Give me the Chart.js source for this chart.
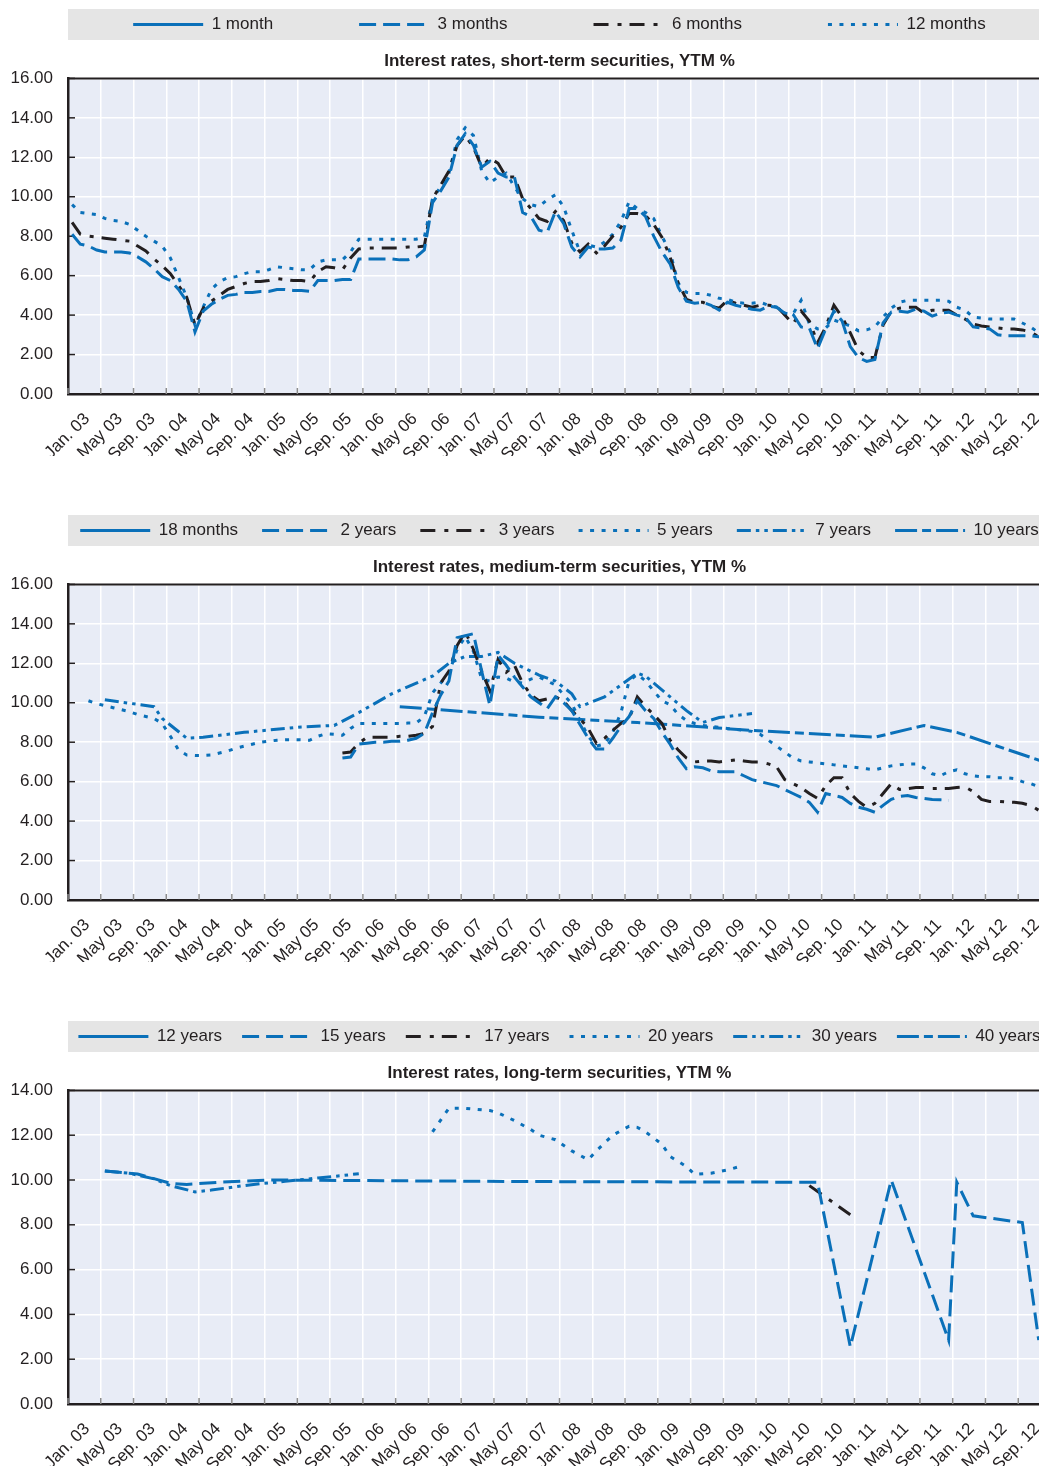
<!DOCTYPE html>
<html>
<head>
<meta charset="utf-8">
<title>Interest rates, YTM %</title>
<script src="https://cdn.jsdelivr.net/npm/chart.js@4"></script>
<style>
  body { margin: 0; background: #fff; }
  #page { position: relative; width: 1039px; height: 1468px; overflow: hidden; }
  #page canvas { position: absolute; left: 0; }
</style>
</head>
<body>
<div id="page">
  <canvas id="short" width="1051" height="526" style="top:-70px"></canvas>
  <canvas id="medium" width="1051" height="464" style="top:498px"></canvas>
  <canvas id="long" width="1051" height="458" style="top:1008px"></canvas>
</div>
<script>
// x axis: one point per month, Jan 2003 (0) .. Dec 2012 (119), labelled every 4 months
const TICK_LABELS = [
  'Jan. 03', 'May 03', 'Sep. 03', 'Jan. 04', 'May 04', 'Sep. 04', 'Jan. 05', 'May 05', 'Sep. 05',
  'Jan. 06', 'May 06', 'Sep. 06', 'Jan. 07', 'May 07', 'Sep. 07', 'Jan. 08', 'May 08', 'Sep. 08',
  'Jan. 09', 'May 09', 'Sep. 09', 'Jan. 10', 'May 10', 'Sep. 10', 'Jan. 11', 'May 11', 'Sep. 11',
  'Jan. 12', 'May 12', 'Sep. 12'
];

// ---- short-term (monthly, from Jan 03) ----
const M1 = [];
const M3 = [
  8.1, 7.6, 7.5, 7.3, 7.2, 7.2, 7.2, 7.15, 6.95, 6.7, 6.35, 5.95,
  5.75, 5.3, 4.7, 3.15, 4.2, 4.55, 4.8, 5.0, 5.05, 5.15, 5.15, 5.2,
  5.2, 5.3, 5.3, 5.25, 5.25, 5.2, 5.75, 5.75, 5.75, 5.8, 5.8, 6.85,
  6.85, 6.85, 6.85, 6.85, 6.8, 6.8, 6.95, 7.3, 9.7, 10.3, 11.0, 12.6,
  13.2, 12.6, 11.5, 11.8, 11.2, 11.0, 11.0, 9.2, 9.0, 8.3, 8.2, 9.25,
  8.65, 7.45, 6.95, 7.45, 7.35, 7.35, 7.4, 7.8, 9.4, 9.4, 9.0, 8.0,
  7.2, 6.6, 5.4, 4.7, 4.6, 4.65, 4.5, 4.25, 4.65, 4.5, 4.4, 4.3,
  4.25, 4.45, 4.4, 4.1, 4.05, 3.4, 3.35, 2.3, 3.3, 4.2, 3.7, 2.4,
  1.85, 1.65, 1.75, 3.6, 4.15, 4.2, 4.15, 4.3, 4.2, 3.95, 4.1, 4.15,
  4.0, 3.9, 3.4, 3.35, 3.3, 3.0, 2.95, 2.95, 2.95, 2.95, 2.9, 2.85
];
const M6 = [
  8.7, 8.1, 8.0, 7.95, 7.9, 7.85, 7.8, 7.75, 7.5, 7.25, 6.85, 6.5,
  6.1, 5.5, 4.9, 3.5, 4.35, 4.7, 5.0, 5.3, 5.45, 5.6, 5.7, 5.7,
  5.75, 5.85, 5.8, 5.75, 5.75, 5.7, 6.2, 6.45, 6.4, 6.3, 6.9, 7.35,
  7.4, 7.4, 7.4, 7.4, 7.4, 7.45, 7.45, 7.5, 9.9, 10.6, 11.3, 12.6,
  13.1, 12.5, 11.5, 11.95, 11.7, 11.0, 11.0, 9.9, 9.4, 8.9, 8.75, 9.25,
  8.8, 7.65, 7.2, 7.6, 7.15, 7.5, 8.0, 8.45, 9.15, 9.15, 9.05, 8.6,
  7.95, 6.95, 5.6, 4.8, 4.65, 4.65, 4.45, 4.35, 4.75, 4.6, 4.5, 4.4,
  4.5, 4.5, 4.45, 4.0, 3.55, 4.2, 3.7, 2.6, 3.4, 4.5, 3.9, 3.1,
  2.2, 1.85, 1.85, 3.5, 4.2, 4.35, 4.4, 4.4, 4.1, 4.25, 4.25, 4.25,
  4.0, 3.8, 3.55, 3.45, 3.4, 3.35, 3.3, 3.3, 3.25, 3.15, 2.9, 2.85
];
const M12 = [
  9.6, 9.2, 9.15, 9.1, 8.9, 8.8, 8.75, 8.6, 8.3, 8.0, 7.75, 7.5,
  6.9, 5.9, 4.9, 3.5, 4.4, 5.3, 5.7, 5.9, 5.95, 6.1, 6.2, 6.2,
  6.3, 6.45, 6.4, 6.35, 6.3, 6.3, 6.7, 6.8, 6.8, 6.8, 7.2, 7.85,
  7.85, 7.85, 7.85, 7.85, 7.85, 7.85, 7.85, 7.95, 9.9, 10.5, 11.2, 12.9,
  13.5, 13.1, 11.3, 10.7, 11.0, 11.2, 10.5, 9.9, 9.6, 9.5, 9.85, 10.1,
  9.5, 8.3, 7.2, 7.55, 7.45, 7.7, 8.1, 8.75, 9.75, 9.4, 9.2, 8.9,
  8.0, 7.2, 5.6, 5.15, 5.1, 5.1, 5.0, 4.85, 4.8, 4.65, 4.6, 4.6,
  4.65, 4.5, 4.4, 4.1, 4.05, 4.75, 3.55, 3.3, 3.35, 3.75, 3.6, 3.45,
  3.2, 3.25, 3.4, 3.9, 4.35, 4.65, 4.75, 4.75, 4.75, 4.75, 4.75, 4.7,
  4.4, 4.25, 3.9, 3.85, 3.8, 3.8, 3.8, 3.8, 3.6, 3.4, 3.1, 2.95
];

// ---- medium-term ----
const M18 = [];
const Y2_START = 33; // Oct 05
const Y2 = [
  7.2, 7.25, 7.9,
  7.95, 8.0, 8.0, 8.05, 8.05, 8.1, 8.2, 8.45, 9.5, 10.4, 11.1, 13.3,
  13.4, 13.5, 11.6, 9.85, 12.4, 11.9, 11.3, 10.8, 10.3, 10.0, 9.7, 10.3,
  10.0, 9.6, 8.9, 8.2, 7.65, 7.65, 8.2, 8.8, 9.3, 10.1, 9.6, 9.2,
  8.5, 7.9, 7.2, 6.65, 6.75, 6.7, 6.55, 6.5, 6.5, 6.5, 6.3, 6.1,
  6.0, 5.9, 5.8, 5.6, 5.4, 5.2, 4.95, 4.45, 5.4, 5.3, 5.2, 4.9,
  4.7, 4.6, 4.45, 4.8, 5.1, 5.25, 5.3, 5.2, 5.15, 5.1, 5.08, 5.05
];
const Y3_START = 33;
const Y3 = [
  7.45, 7.5, 7.95,
  8.25, 8.25, 8.25, 8.25, 8.3, 8.3, 8.35, 8.45, 8.8, 11.0, 11.6, 12.9,
  13.6, 12.7, 11.6, 10.6, 12.2, 11.55, 11.9, 11.0, 10.4, 10.1, 10.2, 10.3,
  10.1, 9.6, 9.2, 8.7, 7.95, 8.2, 8.6, 8.95, 9.2, 10.3, 9.8, 9.4,
  8.95, 8.1, 7.6, 7.2, 7.0, 7.05, 7.05, 7.0, 7.05, 7.1, 7.05, 7.0,
  7.0, 6.9, 6.75, 6.1, 5.9, 5.7, 5.4, 5.15, 5.8, 6.2, 6.2, 5.4,
  5.0, 4.7, 4.9, 5.4, 5.9, 5.6, 5.65, 5.7, 5.7, 5.65, 5.65, 5.65,
  5.7, 5.73, 5.5, 5.1, 5.0, 5.0, 4.97, 4.95, 4.9, 4.8, 4.55, 4.5
];
const Y5_START = 2; // Mar 03
const Y5 = [
  10.1, 9.95, 9.85, 9.75, 9.65, 9.55, 9.4, 9.3, 9.2, 8.95,
  8.3, 7.6, 7.35, 7.33, 7.33, 7.35, 7.45, 7.55, 7.7, 7.8, 7.9, 8.0,
  8.05, 8.1, 8.12, 8.13, 8.12, 8.1, 8.3, 8.43, 8.4, 8.35, 8.7, 8.95,
  8.95, 8.95, 8.95, 8.95, 8.95, 8.97, 8.97, 9.3, 10.5, 11.0, 11.5, 12.7,
  13.35, 12.6, 11.2, 11.1, 11.3, 11.25, 11.05, 11.0, 11.2, 11.3, 11.1, 10.9,
  10.4, 9.95, 9.1, 8.3, 7.8, 7.9, 8.5, 9.5, 11.1, 11.45, 11.1, 10.6,
  10.1, 9.9, 9.4, 9.1, 8.95, 8.85, 8.8, 8.75, 8.7, 8.65, 8.6, 8.55,
  8.4, 8.1, 7.8, 7.5, 7.2, 7.05, 7.0, 6.95, 6.9, 6.85, 6.8, 6.75,
  6.7, 6.65, 6.6, 6.7, 6.8, 6.85, 6.9, 6.9, 6.7, 6.4, 6.3, 6.5,
  6.6, 6.4, 6.3, 6.25, 6.25, 6.2, 6.2, 6.15, 6.0, 5.9, 5.75, 5.7
];
const Y7_MONTHS = [4, 10, 11, 14, 16, 21, 28, 32, 35, 39, 44, 46, 48, 50, 52, 54, 57, 59, 61, 62, 65, 69, 70, 75, 77, 79, 83];
const Y7 = [10.15, 9.8, 9.2, 8.2, 8.25, 8.5, 8.77, 8.85, 9.5, 10.45, 11.35, 12.0, 12.35, 12.35, 12.55, 12.0, 11.4, 11.1, 10.45, 9.8, 10.3, 11.5, 11.35, 9.6, 9.0, 9.25, 9.45];
const Y10_MONTHS = [40, 57, 69, 83, 98, 104, 108, 119];
const Y10 = [9.8, 9.27, 9.0, 8.6, 8.25, 8.85, 8.5, 6.95];

// ---- long-term ----
const Y12 = [];
const Y15_MONTHS = [4, 8, 12, 14, 18, 24, 56, 91, 95, 100, 107, 108, 110, 116, 118];
const Y15 = [10.4, 10.27, 9.85, 9.8, 9.9, 10.0, 9.93, 9.9, 2.55, 10.0, 2.85, 9.9, 8.4, 8.1, 2.85];
const Y17_MONTHS = [90, 95];
const Y17 = [9.75, 8.45];
const Y20_MONTHS = [44, 46, 48, 51, 52, 54, 56, 57, 59, 61, 63, 64, 66, 68, 69, 70, 72, 73, 75, 76, 78, 80, 82];
const Y20 = [12.15, 13.2, 13.2, 13.1, 13.0, 12.65, 12.25, 12.0, 11.8, 11.3, 10.9, 11.3, 12.0, 12.4, 12.35, 12.15, 11.6, 11.05, 10.6, 10.25, 10.3, 10.45, 10.65];
const Y30_MONTHS = [4, 7, 10, 12, 15, 17, 21, 23, 26, 30, 33, 35];
const Y30 = [10.4, 10.3, 10.05, 9.75, 9.47, 9.55, 9.75, 9.84, 9.94, 10.09, 10.2, 10.28];
const Y40 = [];

const BLUE = '#0a70b9';
const BLACK = '#231f20';
const FONT = "'Liberation Sans', Arial, sans-serif";

// line styles
const SOLID = [];
const DASH = [17, 7];
const DASH_DOT = [15, 9, 4, 8];
const DOT = [4, 7.5];
const DASH_DOT_DOT = [14, 5, 3.5, 5, 3.5, 5];
const LONG_SHORT = [22, 5, 9, 5];

function run(start, values) {
  return values.map((v, i) => ({ x: start + i, y: v }));
}
function pts(months, values) {
  return months.map((m, i) => ({ x: m, y: values[i] }));
}
function line(label, data, color, dash) {
  return {
    label, data,
    borderColor: color, backgroundColor: color,
    borderDash: dash, borderWidth: 3,
    pointRadius: 0, tension: 0, spanGaps: true
  };
}

// legend samples use the dataset dash, not the point style
function legendLabels(chart) {
  const items = Chart.defaults.plugins.legend.labels.generateLabels(chart);
  items.forEach(it => {
    const ds = chart.data.datasets[it.datasetIndex];
    it.lineDash = ds.borderDash;
    it.lineWidth = 3;
    it.strokeStyle = ds.borderColor;
  });
  return items;
}

// grey legend band, plot background, top frame and the small inside tick marks
const frame = {
  id: 'frame',
  afterInit(chart) {
    // the original legend row is wider than the plot; keep it on one line
    const lg = chart.legend;
    const fit = lg.fit;
    const draw = lg.draw;
    lg.fit = function () {
      const w = this.maxWidth;
      this.maxWidth = w + 200;
      fit.call(this);
      this.maxWidth = w;
      this.width = Math.min(this.width, w);
    };
    lg.draw = function () {
      this.left -= 200; this.right += 200;
      draw.call(this);
      this.left += 200; this.right -= 200;
    };
  },
  beforeDraw(chart) {
    const { ctx, chartArea: a, legend } = chart;
    ctx.save();
    const hb = legend.legendHitBoxes[0];
    const cy = hb.top + hb.height / 2;
    ctx.fillStyle = '#e5e5e5';
    ctx.fillRect(a.left, cy - 15.5, chart.width - a.left, 31);
    ctx.fillStyle = '#e8ecf6';
    ctx.fillRect(a.left, a.top, a.right - a.left, a.bottom - a.top);
    ctx.restore();
  },
  beforeDatasetsDraw(chart) {
    const { ctx, chartArea: a, scales: { x, y } } = chart;
    ctx.save();
    ctx.lineWidth = 1.5;
    ctx.strokeStyle = BLACK;
    y.ticks.forEach(t => {
      const py = y.getPixelForValue(t.value);
      ctx.beginPath(); ctx.moveTo(a.left, py); ctx.lineTo(a.left + 7, py); ctx.stroke();
    });
    ctx.strokeStyle = '#8c8c8c';
    x.ticks.forEach(t => {
      const px = x.getPixelForValue(t.value);
      ctx.beginPath(); ctx.moveTo(px, a.bottom); ctx.lineTo(px, a.bottom - 6); ctx.stroke();
    });
    ctx.strokeStyle = BLACK;
    ctx.lineWidth = 2;
    ctx.beginPath(); ctx.moveTo(a.left, a.top); ctx.lineTo(a.right, a.top); ctx.stroke();
    ctx.restore();
  }
};

function makeChart(id, title, datasets, yMax, legendPad) {
  return new Chart(document.getElementById(id), {
    type: 'line',
    data: { datasets },
    options: {
      responsive: false,
      animation: false,
      devicePixelRatio: 1,
      layout: { padding: 0 },
      plugins: {
        legend: {
          position: 'top', fullSize: false, weight: 3000,
          labels: {
            usePointStyle: true, pointStyle: 'line', pointStyleWidth: 70,
            padding: legendPad, color: BLACK,
            font: { family: FONT, size: 17 },
            generateLabels: legendLabels
          }
        },
        title: {
          display: true, text: title, fullSize: false, weight: 1000,
          color: BLACK, font: { family: FONT, size: 17, weight: 'bold' },
          padding: { top: 8.5, bottom: 6.5 }
        },
        tooltip: { enabled: false }
      },
      scales: {
        x: {
          type: 'linear', min: -0.5, max: 119.5,
          afterBuildTicks: s => { s.ticks = TICK_LABELS.map((_, i) => ({ value: i * 4 - 0.5 })); },
          afterFit: s => { s.height = 62; },
          grid: { color: '#ffffff', lineWidth: 1.5, drawTicks: false },
          border: { color: BLACK, width: 2.5 },
          ticks: {
            autoSkip: false, minRotation: 45, maxRotation: 45,
            labelOffset: 19, padding: 15, color: BLACK,
            font: { family: FONT, size: 17 },
            callback: (v, i) => TICK_LABELS[i]
          }
        },
        y: {
          min: 0, max: yMax,
          afterFit: s => { s.width = 68; },
          grid: { color: '#ffffff', lineWidth: 1.5, drawTicks: false },
          border: { color: BLACK, width: 2.5 },
          ticks: {
            stepSize: 2, padding: 15, color: BLACK,
            font: { family: FONT, size: 17 },
            callback: v => v.toFixed(2)
          }
        }
      }
    },
    plugins: [frame]
  });
}

makeChart('short', 'Interest rates, short-term securities, YTM %', [
  line('1 month', run(0, M1), BLUE, SOLID),
  line('3 months', run(0, M3), BLUE, DASH),
  line('6 months', run(0, M6), BLACK, DASH_DOT),
  line('12 months', run(0, M12), BLUE, DOT)
], 16, 86);

makeChart('medium', 'Interest rates, medium-term securities, YTM %', [
  line('18 months', run(0, M18), BLUE, SOLID),
  line('2 years', run(Y2_START, Y2), BLUE, DASH),
  line('3 years', run(Y3_START, Y3), BLACK, DASH_DOT),
  line('5 years', run(Y5_START, Y5), BLUE, DOT),
  line('7 years', pts(Y7_MONTHS, Y7), BLUE, DASH_DOT_DOT),
  line('10 years', pts(Y10_MONTHS, Y10), BLUE, LONG_SHORT)
], 16, 24);

makeChart('long', 'Interest rates, long-term securities, YTM %', [
  line('12 years', run(0, Y12), BLUE, SOLID),
  line('15 years', pts(Y15_MONTHS, Y15), BLUE, DASH),
  line('17 years', pts(Y17_MONTHS, Y17), BLACK, DASH_DOT),
  line('20 years', pts(Y20_MONTHS, Y20), BLUE, DOT),
  line('30 years', pts(Y30_MONTHS, Y30), BLUE, DASH_DOT_DOT),
  line('40 years', run(0, Y40), BLUE, LONG_SHORT)
], 14, 20);
</script>
</body>
</html>
